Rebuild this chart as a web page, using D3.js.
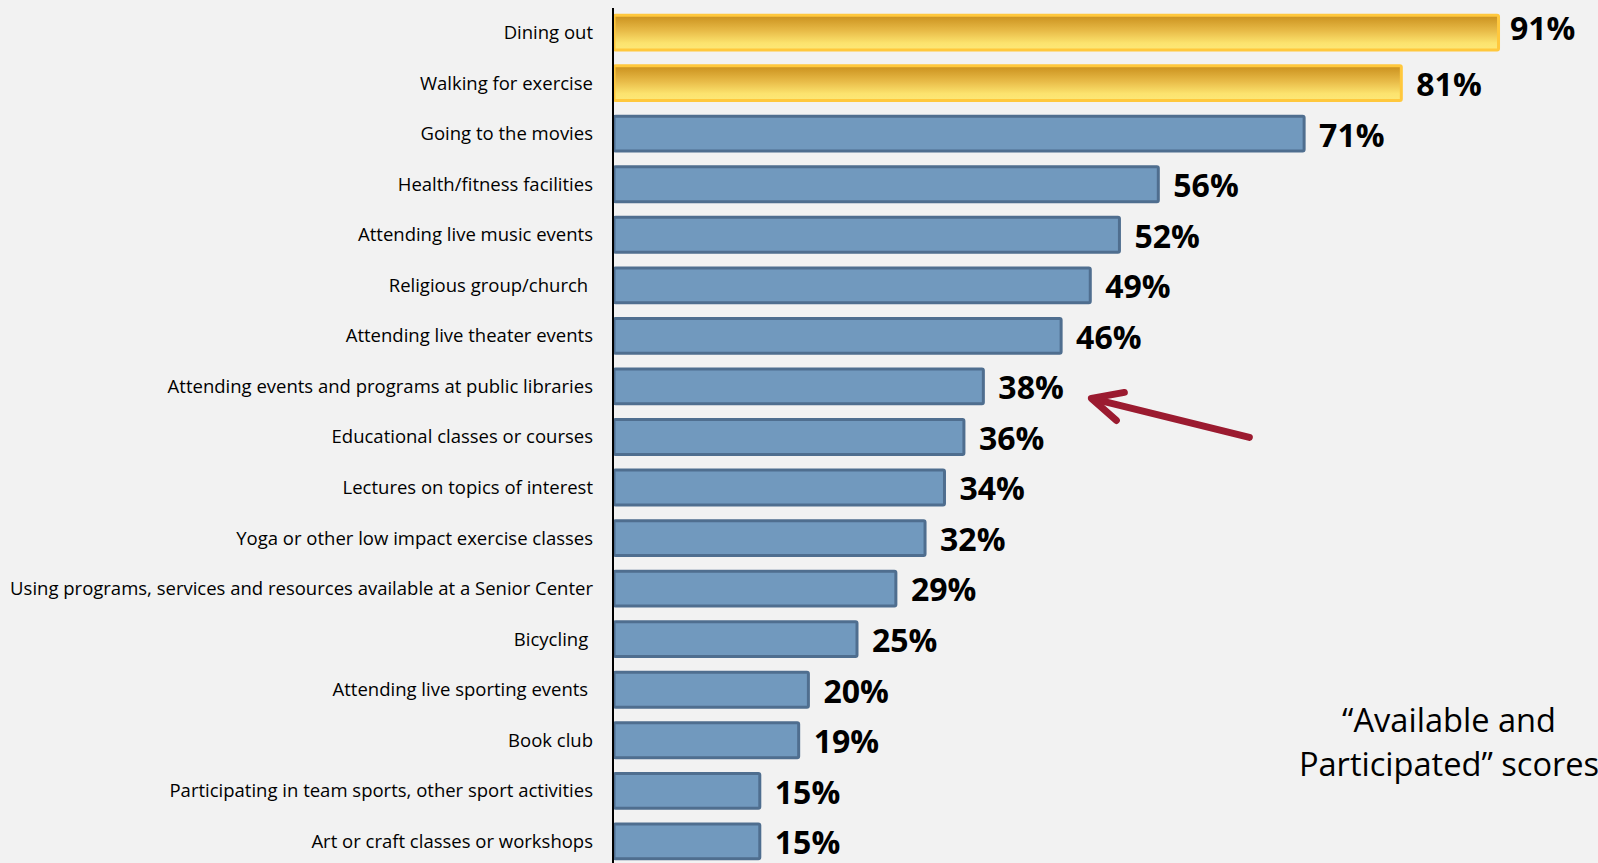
<!DOCTYPE html>
<html><head><meta charset="utf-8">
<script src="https://cdn.jsdelivr.net/npm/d3@7"></script>
<style>
html,body{margin:0;padding:0;background:#f2f2f2;overflow:hidden}
svg{display:block}
</style></head>
<body>
<svg id="chart" width="1598" height="863"></svg>
<script>
const categories = [
  "Dining out",
  "Walking for exercise",
  "Going to the movies",
  "Health/fitness facilities",
  "Attending live music events",
  "Religious group/church ",
  "Attending live theater events",
  "Attending events and programs at public libraries",
  "Educational classes or courses",
  "Lectures on topics of interest",
  "Yoga or other low impact exercise classes",
  "Using programs, services and resources available at a Senior Center",
  "Bicycling ",
  "Attending live sporting events ",
  "Book club",
  "Participating in team sports, other sport activities",
  "Art or craft classes or workshops"
];
const values = [91, 81, 71, 56, 52, 49, 46, 38, 36, 34, 32, 29, 25, 20, 19, 15, 15];
const highlighted = ["Dining out", "Walking for exercise"];
const annotationLines = ["\u201CAvailable and", "Participated\u201D scores"];
const arrowTarget = "Attending events and programs at public libraries";

const svg = d3.select("#chart");
const W = 1598, H = 863, plotTop = 8;
svg.append("rect").attr("width", W).attr("height", H).attr("fill", "#f2f2f2");

const defs = svg.append("defs");
const grad = defs.append("linearGradient").attr("id", "gold").attr("x1", 0).attr("y1", 0).attr("x2", 0).attr("y2", 1);
grad.append("stop").attr("offset", "0%").attr("stop-color", "#c98f1c");
grad.append("stop").attr("offset", "45%").attr("stop-color", "#e8bb48");
grad.append("stop").attr("offset", "80%").attr("stop-color", "#fce36e");
grad.append("stop").attr("offset", "100%").attr("stop-color", "#fde878");

const x = d3.scaleLinear().domain([0, 100]).range([614, 1586]);
const y = d3.scaleBand().domain(categories).range([7.3, 7.3 + 17 * 50.55]).paddingInner(0.31).paddingOuter(0.155);
const cy = c => y(c) + y.bandwidth() / 2;

const data = categories.map((c, i) => ({ c, v: values[i], hi: highlighted.includes(c), i }));

svg.append("g").selectAll("rect").data(data).join("rect")
  .attr("x", x(0))
  .attr("y", d => y(d.c))
  .attr("width", d => x(d.v) - x(0))
  .attr("height", y.bandwidth())
  .attr("rx", 1.5)
  .attr("fill", d => d.hi ? "url(#gold)" : "#7199be")
  .attr("stroke", d => d.hi ? "#ffc83d" : "#4f6e8f")
  .attr("stroke-width", 3);

// category labels
svg.append("g").selectAll("text").data(data).join("text")
  .attr("x", 593)
  .attr("y", d => cy(d.c))
  .attr("dy", "0.35em")
  .attr("text-anchor", "end")
  .attr("xml:space", "preserve")
  .style("white-space", "pre")
  .attr("font-family", "'Open Sans', sans-serif")
  .attr("font-size", 18.5)
  .attr("fill", "#000")
  .text(d => d.c);

// value labels (the top one is nudged up, as in the original)
svg.append("g").selectAll("text").data(data).join("text")
  .attr("x", d => Math.min(x(d.v) + 15, W - 88))
  .attr("y", d => cy(d.c) + (d.i === 0 ? -3.5 : 1.5))
  .attr("dy", "0.355em")
  .attr("font-family", "'Open Sans', sans-serif")
  .attr("font-weight", "bold")
  .attr("font-size", 32)
  .attr("fill", "#000")
  .text(d => d.v + "%");

// axis line
svg.append("line").attr("x1", 613).attr("x2", 613).attr("y1", plotTop).attr("y2", H)
  .attr("stroke", "#000").attr("stroke-width", 2);

// arrow pointing at the libraries label
const ty = cy(arrowTarget);
const tip = [x(values[categories.indexOf(arrowTarget)]) + 108, ty + 12];
const tail = [tip[0] + 158, tip[1] + 39];
const arrowG = svg.append("g").attr("stroke", "#9b1b30").attr("stroke-width", 7)
  .attr("stroke-linecap", "round").attr("stroke-linejoin", "round").attr("fill", "none");
arrowG.append("line").attr("x1", tail[0]).attr("y1", tail[1]).attr("x2", tip[0] + 4).attr("y2", tip[1] + 1);
arrowG.append("path").attr("d", d3.line()([[tip[0] + 33, tip[1] - 6], tip, [tip[0] + 25, tip[1] + 22]]));

// annotation
const ann = svg.append("text").attr("font-family", "'Open Sans', sans-serif").attr("font-size", 32.6)
  .attr("text-anchor", "middle").attr("fill", "#000");
annotationLines.forEach((t, i) => {
  ann.append("tspan").attr("x", 1449).attr("y", 732 + i * 44).text(t);
});
</script>
</body></html>
